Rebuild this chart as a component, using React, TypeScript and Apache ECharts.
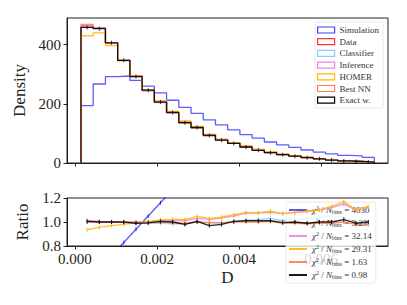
import React, { useEffect, useRef } from "react";
import * as echarts from "echarts";

const binEdges = [
  0.000146, 0.000444, 0.000742, 0.00104, 0.001338, 0.001636, 0.001934, 0.002232, 0.00253, 0.002828,
  0.003126, 0.003424, 0.003722, 0.00402, 0.004318, 0.004616, 0.004914, 0.005212, 0.00551, 0.005808,
  0.006106, 0.006404, 0.006702, 0.007, 0.007298,
];

const simulation = [194, 267, 292, 294, 279, 260, 237, 212, 188, 168, 146, 129, 112, 96, 84, 71, 61, 53, 44, 37, 31, 26, 24, 19];
const dataHist = [463, 455, 407, 347, 295, 246, 207, 170, 139, 119, 96, 78, 66, 54, 43, 35, 28, 23, 18, 14, 10, 7, 5, 3];
const classifier = [462, 458, 406, 346, 292, 244, 204, 168, 137, 119, 95, 77, 66, 55, 44, 36, 28, 23, 19, 15, 10, 7, 5, 3];
const inference = [461, 455, 407, 347, 295, 246, 209, 172, 140, 122, 97, 80, 69, 58, 46, 38, 30, 25, 20, 15, 11, 8, 6, 3];
const homer = [430, 440, 397, 345, 294, 247, 211, 174, 142, 124, 97, 81, 69, 57, 46, 38, 30, 25, 20, 15, 11, 8, 6, 3];
const bestNN = [468, 457, 407, 347, 294, 245, 207, 169, 138, 119, 95, 78, 66, 54, 43, 35, 28, 23, 18, 14, 10, 7, 5, 3];
const exactW = [458, 454, 406, 347, 292, 246, 206, 171, 136, 120, 93, 77, 66, 54, 43, 35, 28, 23, 18, 14, 10, 7, 5, 3];

const ratioSimulation = [0.42, 0.59, 0.72, 0.83, 0.94, 1.05, 1.16, 1.27, 1.35, 1.41, 1.54, 1.65, 1.7, 1.78, 1.95, 2.03, 2.18, 2.3, 2.44, 2.64, 3.1, 3.7, 4.8, 5.5];
const ratioClassifier = [1.0, 1.0, 1.0, 1.0, 0.995, 0.99, 0.99, 0.985, 0.985, 1.0, 0.995, 0.99, 1.005, 1.015, 1.02, 1.03, 1.01, 1.02, 1.03, 1.04, 1.05, 1.04, 1.0, 0.99];
const ratioInference = [1.0, 1.0, 1.0, 1.0, 1.0, 1.0, 1.01, 1.015, 1.01, 1.03, 1.02, 1.035, 1.05, 1.075, 1.075, 1.08, 1.07, 1.08, 1.09, 1.1, 1.12, 1.15, 1.1, 1.12];
const ratioHomer = [0.935, 0.955, 0.97, 0.98, 0.995, 1.005, 1.017, 1.022, 1.02, 1.047, 1.03, 1.04, 1.06, 1.078, 1.078, 1.09, 1.07, 1.08, 1.09, 1.1, 1.13, 1.17, 1.1, 1.13];
const ratioBestNN = [1.013, 1.005, 1.0, 1.0, 0.995, 0.995, 1.0, 0.995, 0.99, 1.0, 0.995, 0.995, 1.0, 1.0, 1.0, 1.005, 0.99, 0.99, 0.985, 0.99, 0.99, 1.0, 0.98, 0.98];
const ratioExact = [1.005, 1.0, 1.0, 0.999, 0.99, 0.993, 1.005, 1.0, 0.98, 1.005, 0.97, 0.98, 1.005, 1.01, 1.01, 1.01, 0.995, 1.0, 0.99, 1.0, 1.0, 1.02, 0.99, 1.0];

const chiValues = ["4030", "3.23", "32.14", "29.31", "1.63", "0.98"];

const histNames = ["Simulation", "Data", "Classifier", "Inference", "HOMER", "Best NN", "Exact w."];
const histColors = ["rgba(0,0,255,0.75)", "rgba(255,0,0,0.8)", "#87CEFA", "#EE82EE", "#FFB800", "#FF7F50", "#000000"];
const histValues = [simulation, dataHist, classifier, inference, homer, bestNN, exactW];

const ratioNames = ["r Simulation", "r Classifier", "r Inference", "r HOMER", "r Best NN", "r Exact w."];
const ratioColors = ["rgba(0,0,255,0.75)", "#87CEFA", "#EE82EE", "#FFB800", "#FF7F50", "#000000"];
const ratioValues = [ratioSimulation, ratioClassifier, ratioInference, ratioHomer, ratioBestNN, ratioExact];

const xTicks = [0, 0.002, 0.004, 0.006];
const topYTicks = [0, 200, 400];
const ratioYTicks = [0.8, 1.0, 1.2];

const X_MIN = -0.000195;
const X_MAX = 0.00763;
const FONT = "'Liberation Serif', 'DejaVu Serif', serif";

function stepPoints(vals: number[]) {
  const pts: number[][] = [[binEdges[0], 0]];
  vals.forEach((v, i) => {
    pts.push([binEdges[i], v]);
    pts.push([binEdges[i + 1], v]);
  });
  pts.push([binEdges[binEdges.length - 1], 0]);
  return pts;
}

const centers = binEdges.slice(0, -1).map((e, i) => (e + binEdges[i + 1]) / 2);

export default function App() {
  const ref = useRef<HTMLDivElement>(null);
  useEffect(() => {
    if (!ref.current) return;
    const chart = echarts.init(ref.current, null, { renderer: "svg" });
    const axisColor = "#222";
    const series: any[] = [];
    histNames.forEach((n, k) => {
      series.push({
        name: n,
        type: "line",
        xAxisIndex: 0,
        yAxisIndex: 0,
        data: stepPoints(histValues[k]),
        symbol: "none",
        lineStyle: { color: histColors[k], width: 1.3, opacity: k === 6 ? 0.9 : 0.85 },
        itemStyle: { color: histColors[k] },
        z: 2 + k,
      });
    });
    series.push({
      name: "exact err",
      type: "scatter",
      xAxisIndex: 0,
      yAxisIndex: 0,
      data: centers.map((c, i) => [c, exactW[i]]),
      symbol: "rect",
      symbolSize: [1, 4],
      itemStyle: { color: "#000" },
      z: 10,
    });
    ratioNames.forEach((n, k) => {
      series.push({
        name: n,
        type: "line",
        xAxisIndex: 1,
        yAxisIndex: 1,
        data: centers.map((c, i) => [c, ratioValues[k][i]]),
        symbol: "rect",
        symbolSize: [1, 4],
        showSymbol: true,
        clip: true,
        lineStyle: { color: ratioColors[k], width: 1.4, opacity: 0.85 },
        itemStyle: { color: ratioColors[k] },
        z: 2 + k,
      });
    });

    const option: any = {
      animation: false,
      backgroundColor: "#fff",
      textStyle: { fontFamily: FONT },
      grid: [
        { left: 67, right: 19, top: 18, height: 145, show: true, borderColor: axisColor, borderWidth: 1, backgroundColor: "transparent" },
        { left: 67, right: 19, top: 198, height: 48, show: true, borderColor: axisColor, borderWidth: 1, backgroundColor: "transparent" },
      ],
      xAxis: [
        {
          gridIndex: 0,
          type: "value",
          min: X_MIN,
          max: X_MAX,
          axisLine: { show: true, onZero: false, lineStyle: { color: axisColor } },
          axisTick: { show: true, customValues: xTicks, length: 3.5, lineStyle: { color: axisColor } },
          axisLabel: { show: false, customValues: xTicks },
          splitLine: { show: false },
        },
        {
          gridIndex: 1,
          type: "value",
          min: X_MIN,
          max: X_MAX,
          name: "D",
          nameLocation: "middle",
          nameGap: 23,
          nameTextStyle: { fontFamily: FONT, fontSize: 17, color: "#222" },
          axisLine: { show: true, onZero: false, lineStyle: { color: axisColor } },
          axisTick: { show: true, customValues: xTicks, length: 3.5, lineStyle: { color: axisColor } },
          axisLabel: {
            show: true,
            customValues: xTicks,
            margin: 5,
            fontFamily: FONT,
            fontSize: 15,
            color: "#222",
            formatter: (v: number) => v.toFixed(3),
          },
          splitLine: { show: false },
        },
      ],
      yAxis: [
        {
          gridIndex: 0,
          type: "value",
          min: 0,
          max: 490,
          name: "Density",
          nameLocation: "middle",
          nameGap: 26,
          nameTextStyle: { fontFamily: FONT, fontSize: 17, color: "#222" },
          axisLine: { show: true, onZero: false, lineStyle: { color: axisColor } },
          axisTick: { show: true, customValues: topYTicks, length: 3.5, lineStyle: { color: axisColor } },
          axisLabel: { show: true, customValues: topYTicks, margin: 6, fontFamily: FONT, fontSize: 15, color: "#222" },
          splitLine: { show: false },
        },
        {
          gridIndex: 1,
          type: "value",
          min: 0.8,
          max: 1.2,
          name: "Ratio",
          nameLocation: "middle",
          nameGap: 26,
          nameTextStyle: { fontFamily: FONT, fontSize: 17, color: "#222" },
          axisLine: { show: true, onZero: false, lineStyle: { color: axisColor } },
          axisTick: { show: true, customValues: ratioYTicks, length: 3.5, lineStyle: { color: axisColor } },
          axisLabel: {
            show: true,
            customValues: ratioYTicks,
            margin: 6,
            fontFamily: FONT,
            fontSize: 15,
            color: "#222",
            formatter: (v: number) => v.toFixed(1),
          },
          splitLine: { show: false },
        },
      ],
      legend: [
        {
          orient: "vertical",
          left: 315,
          top: 22,
          icon: "rect",
          itemWidth: 17,
          itemHeight: 6,
          itemGap: 1.7,
          padding: [3, 4, 3, 2],
          selectedMode: false,
          backgroundColor: "rgba(255,255,255,0.8)",
          borderColor: "#e4e4e4",
          borderWidth: 0.8,
          borderRadius: 2,
          textStyle: { fontFamily: FONT, fontSize: 9, color: "#333", lineHeight: 10 },
          data: histNames.map((n, k) => ({
            name: n,
            itemStyle: { color: "rgba(0,0,0,0)", borderColor: histColors[k], borderWidth: 1.2 },
          })),
        },
        {
          orient: "vertical",
          left: 286,
          top: 202,
          icon: "path://M0,0H20V2H0Z",
          itemWidth: 18,
          itemHeight: 2,
          itemGap: 3,
          padding: [3, 4, 3, 3],
          selectedMode: false,
          backgroundColor: "rgba(255,255,255,0.8)",
          borderColor: "#e4e4e4",
          borderWidth: 0.8,
          borderRadius: 2,
          data: ratioNames.map((n, k) => ({ name: n, itemStyle: { color: ratioColors[k] } })),
          formatter: (name: string) => {
            const k = ratioNames.indexOf(name);
            return `{i|χ}{sup|2}{n| / }{i|N}{sub|bins}{n| = ${chiValues[k]}}`;
          },
          textStyle: {
            fontFamily: FONT,
            fontSize: 9,
            color: "#333",
            rich: {
              n: { fontFamily: FONT, fontSize: 9, color: "#333", lineHeight: 10 },
              i: { fontFamily: FONT, fontSize: 9, fontStyle: "italic", color: "#333", lineHeight: 10 },
              sup: { fontFamily: FONT, fontSize: 6, color: "#333", verticalAlign: "top", lineHeight: 6, padding: [0, 0, 3, 0] },
              sub: { fontFamily: FONT, fontSize: 6, color: "#333", verticalAlign: "bottom", lineHeight: 6, padding: [3, 0, 0, 0] },
            },
          },
        },
      ],
      series,
    };
    chart.setOption(option);
    return () => chart.dispose();
  }, []);
  return <div ref={ref} style={{ position: "fixed", left: 0, top: 0, width: 407, height: 305, background: "#fff" }} />;
}
